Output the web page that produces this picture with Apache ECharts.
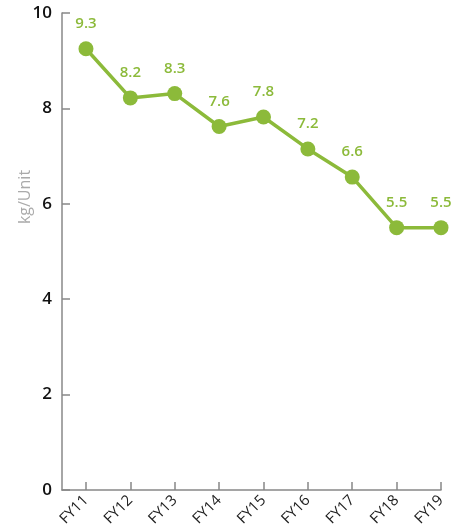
<!DOCTYPE html>
<html>
<head>
<meta charset="utf-8">
<script src="https://cdn.jsdelivr.net/npm/echarts@6/dist/echarts.min.js"></script>
<style>
  html, body { margin: 0; padding: 0; background: #fff; }
  #chart { width: 457px; height: 532px; }
</style>
</head>
<body>
<div id="chart"></div>
<script>
// 年度数据
var years = ['FY11', 'FY12', 'FY13', 'FY14', 'FY15', 'FY16', 'FY17', 'FY18', 'FY19'];
var values = [9.25, 8.22, 8.31, 7.62, 7.82, 7.15, 6.56, 5.5, 5.5];
var yTicks = [0, 2, 4, 6, 8, 10];

var green = '#8cba3a';
var chart = echarts.init(document.getElementById('chart'));

var idx = years.map(function (y, i) { return i; });
var points = values.map(function (v, i) { return [i, v]; });

chart.setOption({
  animation: false,
  grid: { left: 62, right: 16, top: 13, bottom: 42 },
  xAxis: {
    type: 'value',
    min: -0.54,
    max: years.length - 1,
    splitLine: { show: false },
    axisLine: { show: true, onZero: false, lineStyle: { color: '#888', width: 1.5 } },
    axisTick: { show: true, inside: true, length: 8, customValues: idx, lineStyle: { color: '#888', width: 1.5 } },
    axisLabel: {
      customValues: idx,
      rotate: 45,
      margin: 8,
      color: '#222',
      fontSize: 15,
      fontFamily: 'Open Sans',
      formatter: function (v) { return years[Math.round(v)]; }
    }
  },
  yAxis: {
    type: 'value',
    min: 0,
    max: 10,
    interval: 2,
    splitLine: { show: false },
    axisLine: { show: true, onZero: false, lineStyle: { color: '#888', width: 1.5 } },
    axisTick: { show: true, inside: true, length: 8, lineStyle: { color: '#888', width: 1.5 } },
    axisLabel: {
      margin: 10,
      color: '#111',
      fontSize: 17,
      fontWeight: 600,
      fontFamily: 'Open Sans',
      formatter: function (v) { return yTicks.indexOf(v) >= 0 ? String(v) : ''; }
    }
  },
  graphic: [{
    type: 'text',
    x: 25,
    y: 197,
    rotation: Math.PI / 2,
    style: {
      text: 'kg/Unit',
      fill: '#aaa',
      fontSize: 16,
      fontFamily: 'Open Sans',
      align: 'center',
      verticalAlign: 'middle'
    }
  }],
  series: [{
    type: 'line',
    data: points,
    symbol: 'circle',
    symbolSize: 15,
    itemStyle: { color: green },
    lineStyle: { color: green, width: 3.5 },
    label: {
      show: true,
      position: 'top',
      distance: 10,
      color: green,
      fontSize: 15,
      fontFamily: 'Open Sans',
      fontWeight: 600,
      formatter: function (p) { return p.value[1].toFixed(1); }
    }
  }]
});
</script>
</body>
</html>
